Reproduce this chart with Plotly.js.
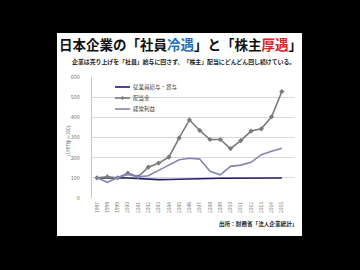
<!DOCTYPE html>
<html><head><meta charset="utf-8">
<script src="https://cdn.plot.ly/plotly-3.0.1.min.js"></script>
<style>
html,body{margin:0;padding:0;background:#000;width:360px;height:270px;overflow:hidden;}
#panel{position:absolute;left:57px;top:33px;width:245px;height:203px;background:#fff;}
#chart{position:absolute;left:0;top:0;width:360px;height:270px;}
</style></head>
<body><div id="panel"></div><div id="chart"></div>
<script>
const years = [1997,1998,1999,2000,2001,2002,2003,2004,2005,2006,2007,2008,2009,2010,2011,2012,2013,2014,2015];
const yearLabels = years.map(String);
const wages = [100,101,100,99,96,92,91,92,94,96,97,97,98,98,99,98,97,99,99];
const dividends = [100,105,100,123,105,153,173,203,298,387,335,290,290,245,285,332,343,403,528];
const profits = [100,78,100,117,105,110,137,165,190,197,193,132,115,157,163,177,215,232,247];
const seriesNames = ['従業員給与・賞与','配当金','経常利益'];
const F = '"Noto Sans CJK JP", "Noto Sans", sans-serif';

const traces = [
  {x:years, y:wages, name:seriesNames[0], mode:'lines', line:{color:'#1f1a6b', width:1.6}},
  {x:years, y:dividends, name:seriesNames[1], mode:'lines+markers', line:{color:'#7a7a7a', width:1.6}, marker:{symbol:'diamond', size:4, color:'#7a7a7a'}},
  {x:years, y:profits, name:seriesNames[2], mode:'lines', line:{color:'#8585b5', width:1.6}}
];

// legend geometry (paper coords relative to plot area)
const L = 92, W = 203, T = 77, H = 121;
const px = v => (v - L)/W, py = v => (T + H - v)/H;
const legY = [87, 98, 109];
const legColors = ['#1f1a6b','#7a7a7a','#8585b5'];
const shapes = [];
const annotations = [];
legY.forEach((y,i)=>{
  shapes.push({type:'line', xref:'paper', yref:'paper', x0:px(115), x1:px(130), y0:py(y), y1:py(y), line:{color:legColors[i], width:1.6}});
  annotations.push({xref:'paper', yref:'paper', x:px(130.5), y:py(y), xanchor:'left', yanchor:'middle', text:seriesNames[i], showarrow:false, font:{family:F, size:5.5, color:'#444'}});
});
shapes.push({type:'path', xref:'paper', yref:'paper',
  path:`M ${px(122.5)} ${py(96)} L ${px(124.5)} ${py(98)} L ${px(122.5)} ${py(100)} L ${px(120.5)} ${py(98)} Z`,
  fillcolor:'#7a7a7a', line:{width:0}});

annotations.push({xref:'paper', yref:'paper', x:px(180.5), y:py(44), xanchor:'center', yanchor:'middle', showarrow:false,
  text:'<b>日本企業の「社員<span style="color:#1f6fc0">冷遇</span>」と「株主<span style="color:#e02020">厚遇</span>」</b>',
  font:{family:F, size:13.5, color:'#111'}});
annotations.push({xref:'paper', yref:'paper', x:px(183.5), y:py(61), xanchor:'center', yanchor:'middle', showarrow:false,
  text:'<b>企業は売り上げを「社員」給与に回さず、「株主」配当にどんどん回し続けている。</b>',
  font:{family:F, size:5.9, color:'#222'}});
annotations.push({xref:'paper', yref:'paper', x:px(299), y:py(224), xanchor:'right', yanchor:'middle', showarrow:false,
  text:'<b>出所：財務省「法人企業統計」</b>',
  font:{family:F, size:5.6, color:'#222'}});
annotations.push({xref:'paper', yref:'paper', x:px(68), y:py(141), xanchor:'center', yanchor:'middle', showarrow:false, textangle:-90,
  text:'（1997年＝100）', font:{family:F, size:4.6, color:'#555'}});

const layout = {
  width:360, height:270,
  margin:{l:L, r:360-L-W, t:T, b:270-T-H, pad:0},
  paper_bgcolor:'rgba(0,0,0,0)', plot_bgcolor:'#fff',
  showlegend:false,
  xaxis:{type:'linear', range:[1996.51, 2016.28], tickvals:years, ticktext:yearLabels, tickangle:-90,
    showgrid:false, zeroline:false, showline:false, ticks:'', tickfont:{family:F, size:5, color:'#777'}, ticklabelstandoff:2},
  yaxis:{range:[0,600], dtick:100, showgrid:true, gridcolor:'#d8d8d8', gridwidth:1, zeroline:false,
    showline:true, linecolor:'#c8c8c8', linewidth:1, ticks:'', tickfont:{family:F, size:5.5, color:'#777'}, ticklabelstandoff:10},
  shapes:shapes, annotations:annotations
};
Plotly.newPlot('chart', traces, layout, {staticPlot:true, displayModeBar:false});
</script></body></html>
